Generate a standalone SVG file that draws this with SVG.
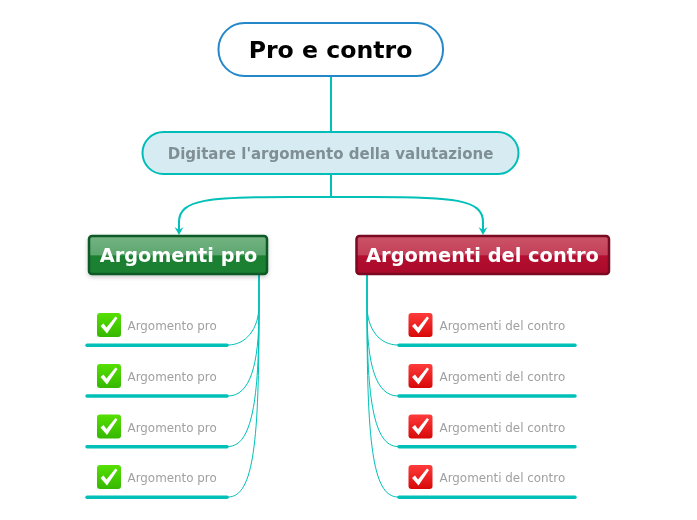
<svg xmlns="http://www.w3.org/2000/svg" width="697" height="520" viewBox="0 0 697 520">
<style>
text{font-family:"DejaVu Sans",sans-serif;opacity:.999}
.lbl{font-size:11.900px;fill:#a0a0a0}
.bar{stroke:#00c0b8;stroke-width:3.400;stroke-linecap:round;fill:none}
.thin{stroke:#00c0b8;stroke-width:1;fill:none}
.thick{stroke:#00c0b8;stroke-width:2;fill:none}
</style>
<defs>
<linearGradient id="gi" x1="0" y1="0" x2="0" y2="1"><stop offset="0" stop-color="#55e000"/><stop offset="1" stop-color="#35b800"/></linearGradient>
<linearGradient id="ri" x1="0" y1="0" x2="0" y2="1"><stop offset="0" stop-color="#ff3b3b"/><stop offset="1" stop-color="#d80808"/></linearGradient>
<linearGradient id="gn" x1="0" y1="0" x2="0" y2="1"><stop offset="0" stop-color="#74b482"/><stop offset="0.5" stop-color="#5da670"/><stop offset="0.52" stop-color="#1a8030"/><stop offset="1" stop-color="#1a8030"/></linearGradient>
<linearGradient id="rn" x1="0" y1="0" x2="0" y2="1"><stop offset="0" stop-color="#cc5468"/><stop offset="0.5" stop-color="#c23f58"/><stop offset="0.52" stop-color="#b40f30"/><stop offset="1" stop-color="#aa0a2a"/></linearGradient>
<filter id="sh" x="-10%" y="-20%" width="120%" height="150%"><feDropShadow dx="0" dy="2" stdDeviation="2" flood-color="#000" flood-opacity="0.2"/></filter>
<path id="arrow" fill="#00c0b8" d="M-4.500 -7 L0 -4 L4.500 -7 L0 1 Z"/>
<path id="ck" fill="#fff" d="M3.500 13 L6.500 10.500 L9.500 14.500 L18.500 3.500 L20.500 5 L10 20.500 Z"/>
</defs>
<g id="connectors">
<path class="thick" d="M331 76 V132"/>
<path class="thick" d="M331 174 V197"/>
<path class="thick" d="M331 197 H290 C210 197 179 199 179 222 V230"/>
<path class="thick" d="M331 197 H372 C452 197 483 199 483 222 V230"/>
<use href="#arrow" x="179" y="234"/>
<use href="#arrow" x="483" y="234"/>
<path class="thin" d="M259 275 V305 C259 330 245 345 228 345"/>
<path class="thin" d="M259 275 V310 C259 365 250 396 228 396"/>
<path class="thin" d="M259 275 V310 C259 400 252 446.500 228 446.500"/>
<path class="thin" d="M259 275 V310 C259 440 254 497 228 497"/>
<path class="thin" d="M367 275 V305 C367 330 380 345 398 345"/>
<path class="thin" d="M367 275 V310 C367 365 376 396 398 396"/>
<path class="thin" d="M367 275 V310 C367 400 374 446.500 398 446.500"/>
<path class="thin" d="M367 275 V310 C367 440 372 497 398 497"/>
<path class="bar" d="M87 345.200 H227"/>
<path class="bar" d="M87 396 H227"/>
<path class="bar" d="M87 446.700 H227"/>
<path class="bar" d="M87 497.200 H227"/>
<path class="bar" d="M399 345.200 H575"/>
<path class="bar" d="M399 396 H575"/>
<path class="bar" d="M399 446.700 H575"/>
<path class="bar" d="M399 497.200 H575"/>
</g>
<g id="root"><rect x="218.500" y="23" width="224.500" height="53" rx="26" fill="#fff" stroke="#2488c8" stroke-width="2"/>
<text x="330.500" y="58" text-anchor="middle" font-size="23.600" font-weight="bold" fill="#000">Pro e contro</text></g>
<g id="main"><rect x="142.500" y="132" width="376" height="42" rx="21" fill="#d6ebf2" stroke="#00bdb8" stroke-width="2"/>
<text x="330.500" y="159" text-anchor="middle" font-size="15" font-weight="bold" fill="#7f8f94">Digitare l'argomento della valutazione</text></g>
<g id="pro"><rect x="89" y="236" width="178" height="38" rx="3" fill="url(#gn)" stroke="#0f5a25" stroke-width="2.500" filter="url(#sh)"/>
<text x="178.500" y="262" text-anchor="middle" font-size="19.300" font-weight="bold" fill="#fff">Argomenti pro</text></g>
<g id="contro"><rect x="356.500" y="236" width="252.500" height="38" rx="3" fill="url(#rn)" stroke="#7a0a22" stroke-width="2.500"/>
<text x="482.500" y="262" text-anchor="middle" font-size="19.400" font-weight="bold" fill="#fff">Argomenti del contro</text></g>
<g id="p1"><rect x="97" y="313" width="24" height="24" rx="3" fill="url(#gi)"/><use href="#ck" x="97" y="313"/><text class="lbl" x="127.500" y="330">Argomento pro</text></g>
<g id="p2"><rect x="97" y="364" width="24" height="24" rx="3" fill="url(#gi)"/><use href="#ck" x="97" y="364"/><text class="lbl" x="127.500" y="381">Argomento pro</text></g>
<g id="p3"><rect x="97" y="414.500" width="24" height="24" rx="3" fill="url(#gi)"/><use href="#ck" x="97" y="414.500"/><text class="lbl" x="127.500" y="432">Argomento pro</text></g>
<g id="p4"><rect x="97" y="465" width="24" height="24" rx="3" fill="url(#gi)"/><use href="#ck" x="97" y="465"/><text class="lbl" x="127.500" y="482">Argomento pro</text></g>
<g id="c1"><rect x="408.500" y="313" width="24" height="24" rx="3" fill="url(#ri)"/><use href="#ck" x="408.500" y="313"/><text class="lbl" x="439.500" y="330">Argomenti del contro</text></g>
<g id="c2"><rect x="408.500" y="364" width="24" height="24" rx="3" fill="url(#ri)"/><use href="#ck" x="408.500" y="364"/><text class="lbl" x="439.500" y="381">Argomenti del contro</text></g>
<g id="c3"><rect x="408.500" y="414.500" width="24" height="24" rx="3" fill="url(#ri)"/><use href="#ck" x="408.500" y="414.500"/><text class="lbl" x="439.500" y="432">Argomenti del contro</text></g>
<g id="c4"><rect x="408.500" y="465" width="24" height="24" rx="3" fill="url(#ri)"/><use href="#ck" x="408.500" y="465"/><text class="lbl" x="439.500" y="482">Argomenti del contro</text></g>
</svg>
